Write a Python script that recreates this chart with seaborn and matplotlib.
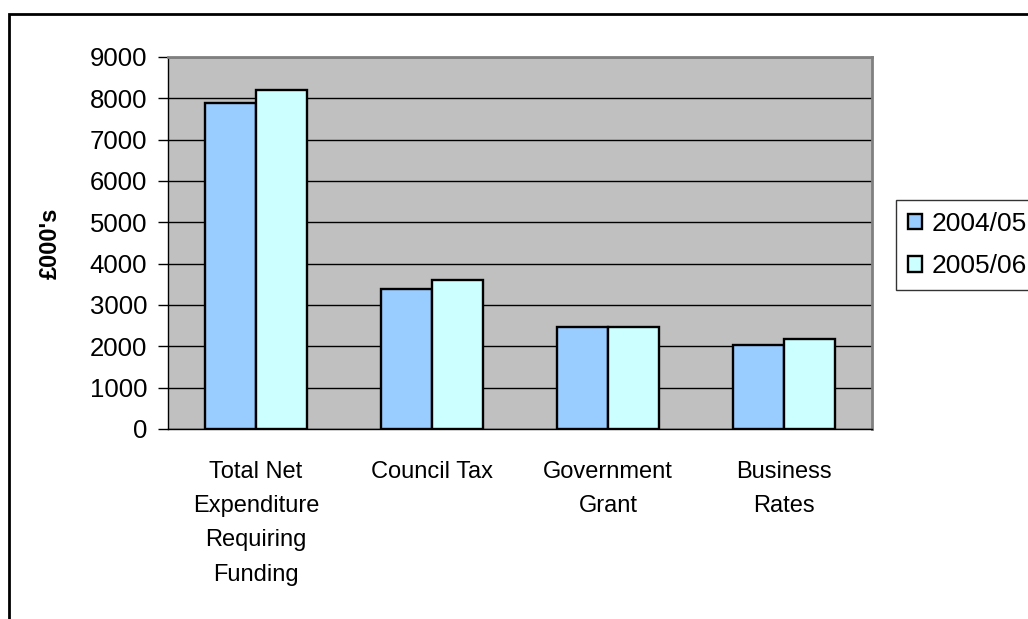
import pandas as pd
import matplotlib.pyplot as plt
import seaborn as sns
from matplotlib.patches import Rectangle

# Chart data
categories = ['Total Net\nExpenditure\nRequiring\nFunding', 'Council Tax', 'Government\nGrant', 'Business\nRates']
years = ['2004/05', '2005/06']
values_0405 = [7890, 3390, 2460, 2040]
values_0506 = [8200, 3600, 2460, 2180]
bar_colors = ['#99CCFF', '#CCFFFF']

data = pd.DataFrame({
    'category': categories * 2,
    'year': [years[0]] * len(categories) + [years[1]] * len(categories),
    'value': values_0405 + values_0506,
})

sns.set_style('white')
plt.rcParams['font.family'] = ['Liberation Sans', 'DejaVu Sans']
plt.rcParams['text.color'] = 'black'
plt.rcParams['xtick.color'] = 'black'
plt.rcParams['ytick.color'] = 'black'
plt.rcParams['xtick.labelcolor'] = 'black'
plt.rcParams['ytick.labelcolor'] = 'black'

fig = plt.figure(figsize=(10.28, 6.19), dpi=100)
ax = fig.add_axes([168 / 1028, 1 - 429 / 619, (872 - 168) / 1028, (429 - 57) / 619])

sns.barplot(data=data, x='category', y='value', hue='year', palette=bar_colors,
            width=0.574, gap=0, edgecolor='black', linewidth=1.7, saturation=1,
            ax=ax, zorder=3)

# Excel style grey plot area with black gridlines
ax.set_facecolor('#C0C0C0')
ax.set_ylim(0, 9000)
ax.set_xlim(-0.5, len(categories) - 0.5)
ax.set_yticks(range(0, 9001, 1000))
ax.yaxis.grid(True, color='black', linewidth=1)
ax.set_axisbelow(True)

ax.set_xticks(range(len(categories)))
ax.set_xticklabels(categories, fontsize=17, linespacing=1.72)
ax.set_xticks([i - 0.5 for i in range(len(categories) + 1)], minor=True)
ax.tick_params(axis='x', which='major', length=0, pad=23)
ax.tick_params(axis='x', which='minor', length=7, width=1, color='black', direction='out')
ax.tick_params(axis='y', length=7, width=1, color='black', direction='out', labelsize=18.5, pad=8, left=True)

for side in ['left', 'bottom']:
    ax.spines[side].set_color('black')
    ax.spines[side].set_linewidth(1)
for side in ['top', 'right']:
    ax.spines[side].set_color('#808080')
    ax.spines[side].set_linewidth(2)

ax.set_xlabel('')
ax.set_ylabel('')
fig.text(50 / 1028, 1 - 243 / 619, "£000's", rotation=90, fontsize=17, fontweight='bold',
         ha='center', va='center', color='black')

# Legend on the right, running off the edge like the original
handles, labels = ax.get_legend_handles_labels()
ax.legend(handles, labels, loc='upper left', bbox_to_anchor=(896 / 1028, 1 - 200 / 619),
          bbox_transform=fig.transFigure, borderaxespad=0, frameon=True, fancybox=False,
          fontsize=19, handlelength=0.55, handleheight=0.55, handletextpad=0.35,
          labelspacing=0.7, borderpad=0.45, edgecolor='black', labelcolor='black')
ax.get_legend().get_frame().set_linewidth(1)

# Outer chart border
fig.patches.append(Rectangle((9 / 1028, -0.1), 1.2, 1.1 - 14 / 619, transform=fig.transFigure,
                             fill=False, edgecolor='black', linewidth=2))

fig.savefig('out.png', dpi=100)
